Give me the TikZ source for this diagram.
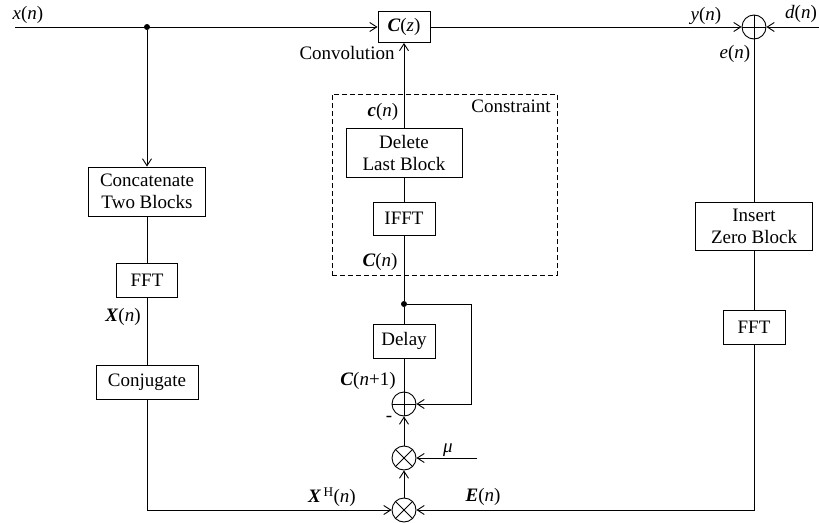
\documentclass[tikz,border=0pt]{standalone}
\usepackage{fontspec}
\setmainfont{Liberation Serif}
\usetikzlibrary{arrows.meta}
\newcommand\mv[1]{\textit{#1}}
\newcommand\bv[1]{\textbf{\textit{#1}}}

\begin{document}
\begin{tikzpicture}[x=1pt,y=-1pt,
  font=\fontsize{19}{22}\selectfont,
  line width=0.9pt,
  >={Straight Barb[length=7pt,width=9pt,line width=0.9pt]},
  blk/.style={draw, rectangle, inner sep=0pt, align=center},
  sumnode/.style={draw, circle, minimum size=24pt, inner sep=0pt},
  lbl/.style={inner sep=0pt},
  junct/.style={circle, fill, inner sep=0pt, minimum size=6pt}]
\useasboundingbox (0,0) rectangle (819,522);

% constraint region
\node[draw, dashed, dash pattern=on 5pt off 3pt, minimum width=225pt, minimum height=181pt] (cons) at (444.5,184.5) {};

% blocks
\node[blk, minimum width=52pt, minimum height=31pt] (cz) at (404,27) {\bv{C}(\mv{z})};
\node[blk, minimum width=117pt, minimum height=49pt] (concat) at (147,191.5) {Concatenate\\Two Blocks};
\node[blk, minimum width=61pt, minimum height=34pt] (fftl) at (147,280) {FFT};
\node[blk, minimum width=102pt, minimum height=34pt] (conj) at (147,382) {Conjugate};
\node[blk, minimum width=116pt, minimum height=49pt] (del) at (404,152.5) {Delete\\Last Block};
\node[blk, minimum width=62pt, minimum height=33pt] (ifft) at (404,218.5) {IFFT};
\node[blk, minimum width=62pt, minimum height=34pt] (delay) at (404,341) {Delay};
\node[blk, minimum width=117pt, minimum height=48pt] (ins) at (754,226) {Insert\\Zero Block};
\node[blk, minimum width=62pt, minimum height=34pt] (fftr) at (754,327) {FFT};

% summing and multiplying junctions
\node[sumnode] (sr) at (754,27) {};
\node[sumnode] (sl) at (404,404) {};
\node[sumnode] (mm) at (404,458) {};
\node[sumnode] (mb) at (404,510) {};
\draw (sr.north) -- (sr.south) (sr.west) -- (sr.east);
\draw (sl.north) -- (sl.south) (sl.west) -- (sl.east);
\draw (mm.north east) -- (mm.south west) (mm.north west) -- (mm.south east);
\draw (mb.north east) -- (mb.south west) (mb.north west) -- (mb.south east);

% branch points
\node[junct] (j1) at (147,27) {};
\node[junct] (j2) at (404,304) {};

% free ends
\coordinate (xs) at (15,27);
\coordinate (ds) at (819,27);
\coordinate (muin) at (477,458);
\coordinate (fb) at (471,304);

% connectors
\draw[->] (xs) -- (cz.west);
\draw[->] (cz.east) -- (sr.west);
\draw[->] (ds) -- (sr.east);
\draw[->] (j1) -- (concat.north);
\draw (concat.south) -- (fftl.north);
\draw (fftl.south) -- (conj.north);
\draw[->] (conj.south) |- (mb.west);
\draw (sr.south) -- (ins.north);
\draw (ins.south) -- (fftr.north);
\draw[->] (fftr.south) |- (mb.east);
\draw[->] (mb.north) -- (mm.south);
\draw[->] (muin) -- (mm.east);
\draw[->] (mm.north) -- (sl.south);
\draw (sl.north) -- (delay.south);
\draw (delay.north) -- (j2);
\draw[->] (j2) -- (fb) |- (sl.east);
\draw (j2) -- (ifft.south);
\draw (ifft.north) -- (del.south);
\draw[->] (del.north) -- (cz.south);

% labels
\node[lbl] (lx) at (28,15) {\mv{x}(\mv{n})};
\node[lbl, anchor=east] (lconv) at (395,53) {Convolution};
\node[lbl] (ly) at (706,16) {\mv{y}(\mv{n})};
\node[lbl] (ld) at (801,14) {\mv{d}(\mv{n})};
\node[lbl] (le) at (735,54) {\mv{e}(\mv{n})};
\node[lbl] (lcs) at (383,112) {\bv{c}(\mv{n})};
\node[lbl] (lcons) at (511,106) {Constraint};
\node[lbl] (lCn) at (380,262) {\bv{C}(\mv{n})};
\node[lbl] (lCn1) at (368,381) {\bv{C}(\mv{n}+1)};
\node[lbl] (lX) at (123,317) {\bv{X}(\mv{n})};
\node[lbl] (lXH) at (332,497) {\bv{X}\textsuperscript{\,H}(\mv{n})};
\node[lbl] (lE) at (483,497) {\bv{E}(\mv{n})};
\node[lbl] (lmu) at (448,450) {\mv{μ}};
\node[lbl] (lminus) at (389,419) {-};
\end{tikzpicture}
\end{document}
